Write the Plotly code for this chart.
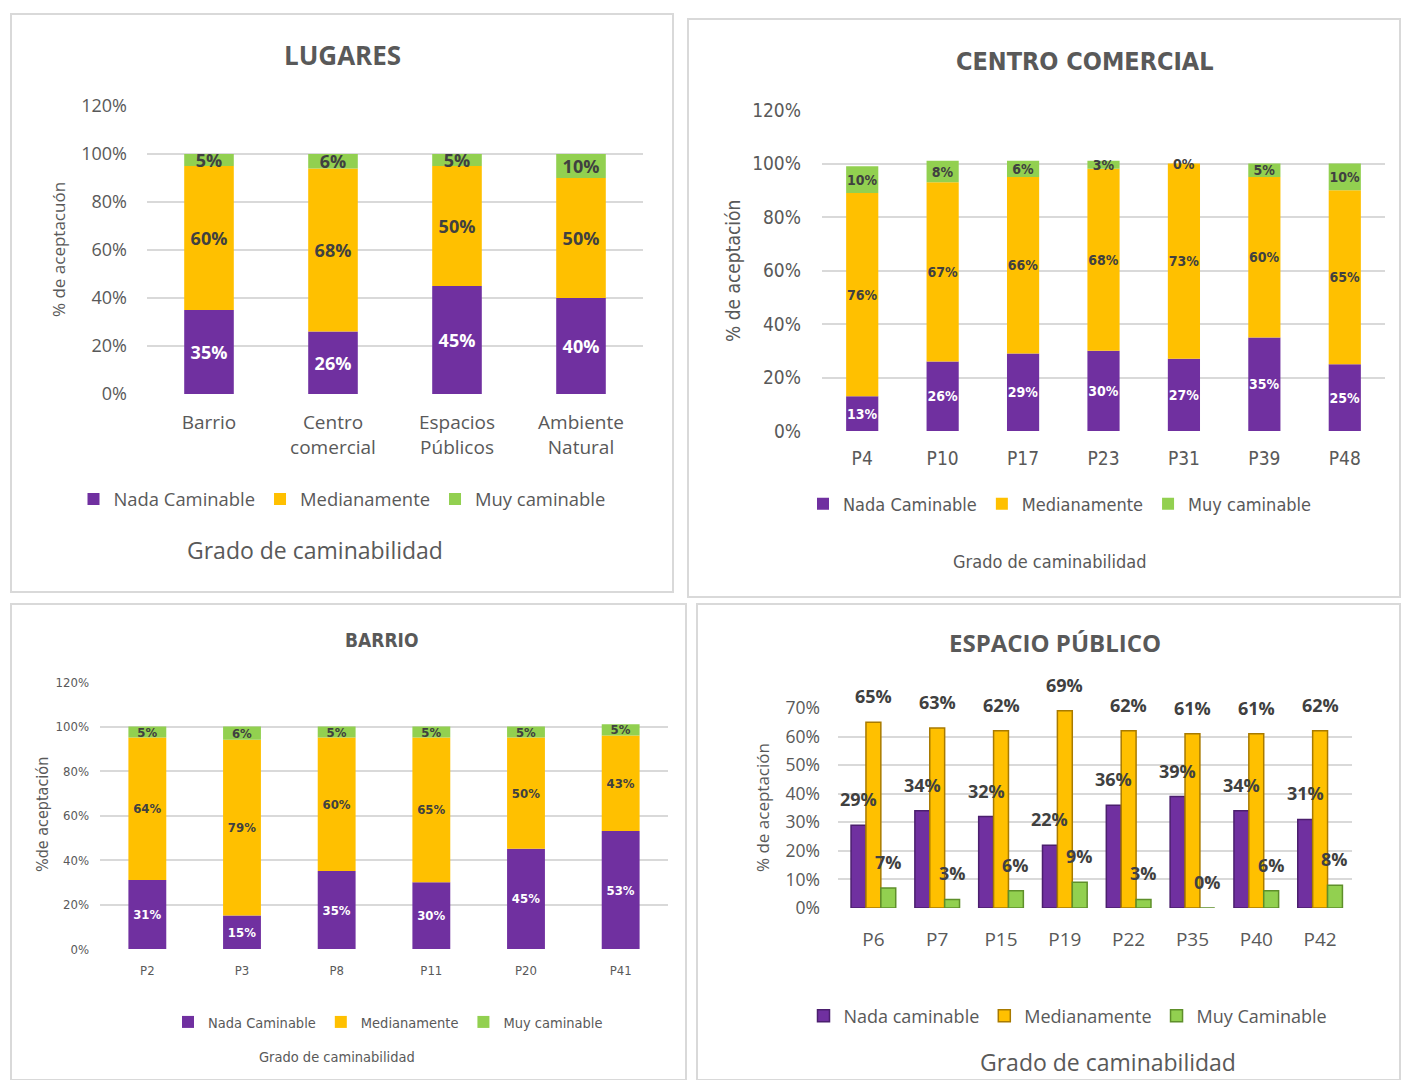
import plotly.graph_objects as go

# ---------------- DATA ----------------
lug_cats = ["Barrio", "Centro<br>comercial", "Espacios<br>Públicos", "Ambiente<br>Natural"]
lug_nada = [0.35, 0.26, 0.45, 0.40]
lug_medio = [0.60, 0.68, 0.50, 0.50]
lug_muy = [0.05, 0.06, 0.05, 0.10]

cc_cats = ["P4", "P10", "P17", "P23", "P31", "P39", "P48"]
cc_nada = [0.13, 0.26, 0.29, 0.30, 0.27, 0.35, 0.25]
cc_medio = [0.76, 0.67, 0.66, 0.68, 0.73, 0.60, 0.65]
cc_muy = [0.10, 0.08, 0.06, 0.03, 0.00, 0.05, 0.10]

ba_cats = ["P2", "P3", "P8", "P11", "P20", "P41"]
ba_nada = [0.31, 0.15, 0.35, 0.30, 0.45, 0.53]
ba_medio = [0.64, 0.79, 0.60, 0.65, 0.50, 0.43]
ba_muy = [0.05, 0.06, 0.05, 0.05, 0.05, 0.05]

ep_cats = ["P6", "P7", "P15", "P19", "P22", "P35", "P40", "P42"]
ep_nada = [0.29, 0.34, 0.32, 0.22, 0.36, 0.39, 0.34, 0.31]
ep_medio = [0.65, 0.63, 0.62, 0.69, 0.62, 0.61, 0.61, 0.62]
ep_muy = [0.07, 0.03, 0.06, 0.09, 0.03, 0.00, 0.06, 0.08]

PURPLE = "#7030A0"
YELLOW = "#FFC000"
GREEN = "#92D050"
DARK = "#404040"
GREY = "#595959"
GRID = "#D9D9D9"

W, H = 1401, 1080
def px(x):
    return x / W
def py(y):
    return 1 - y / H

SANS = "Open Sans, Noto Sans, sans-serif"
NARROW = "Liberation Sans Narrow, DejaVu Sans Condensed, Roboto, sans-serif"

fig = go.Figure()

def pct(vals):
    return [f"{round(v*100)}%" for v in vals]

def stacked(cats, series, xa, ya, leg, font, size, names, group):
    base = [0.0] * len(cats)
    for (vals, color, tcol), name in zip(series, names):
        fig.add_trace(go.Bar(
            x=cats, y=vals, base=list(base), name=name,
            marker=dict(color=color, line=dict(width=0)),
            text=pct(vals), textposition="inside", insidetextanchor="middle",
            textangle=0, constraintext="none", cliponaxis=False,
            textfont=dict(family=font, size=size, color=tcol, weight="bold"),
            xaxis=xa, yaxis=ya, legend=leg, width=0.4, offsetgroup=group,
            hoverinfo="skip"))
        for i, v in enumerate(vals):
            if v == 0:
                fig.add_annotation(x=cats[i], y=base[i], xref=xa, yref=ya, text=pct([v])[0],
                                   showarrow=False, yanchor="middle",
                                   font=dict(family=font, size=size, color=tcol, weight="bold"))
        base = [b + v for b, v in zip(base, vals)]

names1 = ["Nada Caminable", "Medianamente", "Muy caminable"]
# Panel 1: LUGARES
stacked(lug_cats, [(lug_nada, PURPLE, "white"), (lug_medio, YELLOW, DARK), (lug_muy, GREEN, DARK)],
        "x", "y", "legend", SANS, 18, names1, "g1")
# Panel 2: CENTRO COMERCIAL
stacked(cc_cats, [(cc_nada, PURPLE, "white"), (cc_medio, YELLOW, DARK), (cc_muy, GREEN, DARK)],
        "x2", "y2", "legend2", NARROW, 14, names1, "g2")
# Panel 3: BARRIO
stacked(ba_cats, [(ba_nada, PURPLE, "white"), (ba_medio, YELLOW, DARK), (ba_muy, GREEN, DARK)],
        "x3", "y3", "legend3", NARROW, 13, names1, "g3")

# Panel 4: ESPACIO PUBLICO (grouped)
BARGAP = 0.3
slot = (1 - BARGAP) / 3
for k, (vals, color, edge, name) in enumerate([(ep_nada, PURPLE, "#4B1F6E", "Nada caminable"),
                                               (ep_medio, YELLOW, "#A87A00", "Medianamente"),
                                               (ep_muy, GREEN, "#5E8F2A", "Muy Caminable")]):
    fig.add_trace(go.Bar(
        x=ep_cats, y=vals, name=name,
        marker=dict(color=color, line=dict(color=edge, width=1.5)),
        textposition="none", cliponaxis=False,
        xaxis="x4", yaxis="y4", legend="legend4", offsetgroup=f"e{k}", hoverinfo="skip"))
    for i, v in enumerate(vals):
        fig.add_annotation(x=i + (k - 1) * slot, y=v, xref="x4", yref="y4", text=pct([v])[0],
                           showarrow=False, yanchor="bottom", yshift=12,
                           font=dict(family=SANS, size=18, color=DARK, weight="bold"))

def yax(domain, rng, dtick, font, size, standoff):
    return dict(domain=domain, range=rng, dtick=dtick, tickformat=".0%", showgrid=True,
                gridcolor=GRID, gridwidth=2, zeroline=False, showline=False,
                tickfont=dict(family=font, size=size, color=GREY), ticklabelstandoff=standoff,
                automargin=False, fixedrange=True)

def xax(domain, anchor, font, size, standoff):
    return dict(domain=domain, anchor=anchor, showgrid=False, showline=False, zeroline=False,
                ticks="", tickfont=dict(family=font, size=size, color=GREY),
                ticklabelstandoff=standoff, automargin=False, fixedrange=True)

layout = dict(
    width=W, height=H, margin=dict(l=0, r=0, t=0, b=0, autoexpand=False),
    paper_bgcolor="white", plot_bgcolor="white", barmode="group", bargap=BARGAP, bargroupgap=0,
    showlegend=True,
    xaxis=xax([px(147), px(643)], "y", SANS, 19, 15),
    yaxis=yax([py(394), py(106)], [0, 1.2], 0.2, SANS, 18, 19),
    xaxis2=xax([px(822), px(1385)], "y2", NARROW, 19, 14),
    yaxis2=dict(yax([py(431), py(110)], [0, 1.2], 0.2, NARROW, 19, 20), anchor="x2"),
    xaxis3=xax([px(100), px(668)], "y3", NARROW, 13, 12),
    yaxis3=dict(yax([py(949), py(682)], [0, 1.2], 0.2, NARROW, 13, 10), anchor="x3"),
    xaxis4=xax([px(838), px(1352)], "y4", SANS, 19, 18),
    yaxis4=dict(yax([py(908), py(708)], [0, 0.7], 0.1, SANS, 17.5, 17), anchor="x4"),
)

def leg(x, y, font, size):
    return dict(x=px(x), y=py(y), xanchor="center", yanchor="middle", orientation="h",
                font=dict(family=font, size=size, color=GREY), bgcolor="rgba(0,0,0,0)",
                itemwidth=30, tracegroupgap=0, traceorder="normal")

layout["legend"] = leg(342, 499, SANS, 18.4)
layout["legend2"] = leg(1060, 504, NARROW, 18)
layout["legend3"] = leg(388, 1022, NARROW, 14.5)
layout["legend4"] = leg(1068, 1016, SANS, 18)
fig.update_layout(**layout)

# panel borders
for x0, y0, x1, y1 in [(11, 14, 673, 592), (688, 19, 1400, 597), (11, 604, 686, 1080), (697, 604, 1400, 1080)]:
    fig.add_shape(type="rect", xref="paper", yref="paper", x0=px(x0), y0=py(y0), x1=px(x1), y1=py(y1),
                  line=dict(color=GRID, width=2), fillcolor="rgba(0,0,0,0)", layer="below")

def ann(text, x, y, font, size, bold=False, angle=0):
    fig.add_annotation(text=text, x=px(x), y=py(y), xref="paper", yref="paper", showarrow=False,
                       xanchor="center", yanchor="middle", textangle=angle,
                       font=dict(family=font, size=size, color=GREY, weight="bold" if bold else "normal"))

ann("LUGARES", 342, 55, SANS, 26, True)
ann("CENTRO COMERCIAL", 1085, 62, NARROW, 25, True)
ann("BARRIO", 381, 640, NARROW, 19, True)
ann("ESPACIO PÚBLICO", 1055, 642, SANS, 24, True)

ann("% de aceptacuón", 58, 250, SANS, 17, angle=-90)
ann("% de aceptación", 733, 271, NARROW, 19, angle=-90)
ann("%de aceptación", 42, 815, NARROW, 16, angle=-90)
ann("% de aceptación", 762, 808, SANS, 17, angle=-90)

ann("Grado de caminabilidad", 315, 550, SANS, 23)
ann("Grado de caminabilidad", 1049, 561, NARROW, 18)
ann("Grado de caminabilidad", 337, 1057, NARROW, 14.5)
ann("Grado de caminabilidad", 1108, 1062, SANS, 23)

fig.write_html("out.html", config={"displayModeBar": False},
               post_script="document.body.style.margin='0';document.body.style.overflow='hidden';")
